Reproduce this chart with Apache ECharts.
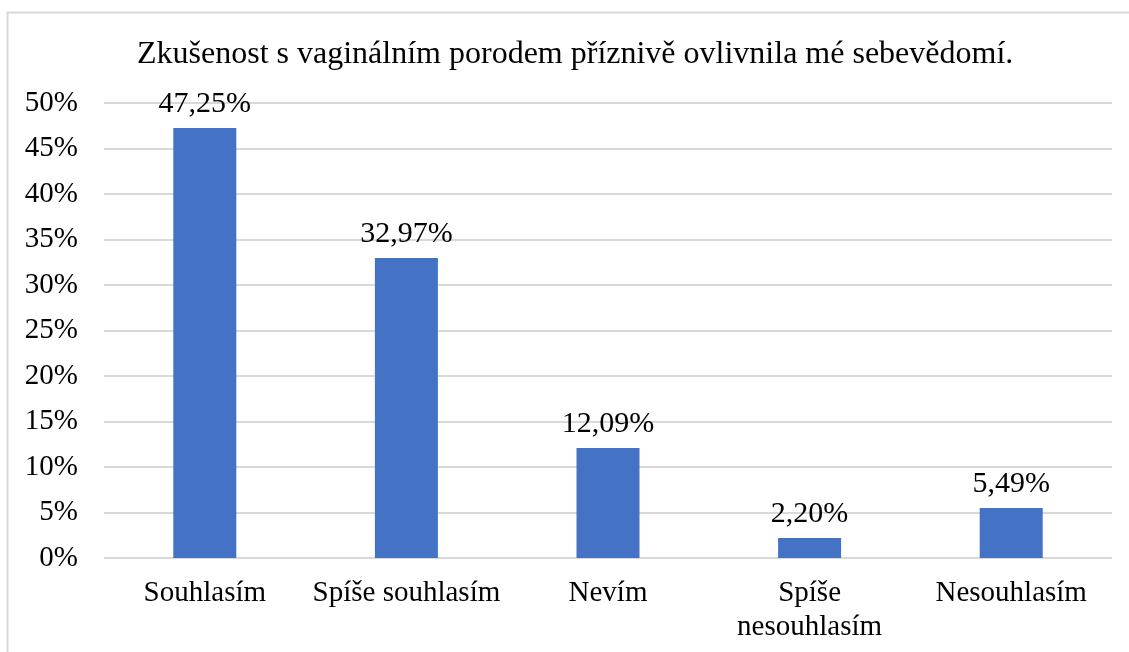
<!DOCTYPE html>
<html>
<head>
<meta charset="utf-8">
<script src="https://cdn.jsdelivr.net/npm/echarts@6/dist/echarts.min.js"></script>
<style>
  html, body { margin: 0; padding: 0; background: #fff; }
  #chart { width: 1129px; height: 652px; }
</style>
</head>
<body>
<div id="chart"></div>
<script>
const categories = ["Souhlasím", "Spíše souhlasím", "Nevím", "Spíše\nnesouhlasím", "Nesouhlasím"];
const values = [47.25, 32.97, 12.09, 2.20, 5.49];
const titleText = "Zkušenost s vaginálním porodem příznivě ovlivnila mé sebevědomí.";

const font = "'Liberation Serif', 'Times New Roman', serif";
const chart = echarts.init(document.getElementById("chart"));
chart.setOption({
  animation: false,
  title: {
    text: titleText,
    left: 137,
    top: 39,
    padding: 0,
    textStyle: { fontFamily: font, fontWeight: "normal", fontSize: 32, color: "#000" }
  },
  graphic: [{
    type: "rect",
    shape: { x: 7.5, y: 12.5, width: 1200, height: 700 },
    style: { fill: "none", stroke: "#d9d9d9", lineWidth: 2 }
  }],
  grid: { left: 104, right: 17, top: 103, bottom: 94, containLabel: false },
  xAxis: {
    type: "category",
    data: categories,
    axisLine: { show: false },
    axisTick: { show: false },
    axisLabel: { fontFamily: font, fontSize: 29, color: "#000", margin: 18, lineHeight: 34, interval: 0 }
  },
  yAxis: {
    type: "value",
    min: 0,
    max: 50,
    interval: 5,
    axisLine: { show: false },
    axisTick: { show: false },
    splitLine: { lineStyle: { color: "#d9d9d9", width: 2 } },
    axisLabel: { fontFamily: font, fontSize: 29, color: "#000", margin: 26, formatter: "{value}%" }
  },
  series: [{
    type: "bar",
    data: values,
    barWidth: 63,
    itemStyle: { color: "#4472c4" },
    label: {
      show: true,
      position: "top",
      distance: 9,
      fontFamily: font,
      fontSize: 30,
      color: "#000",
      formatter: p => p.value.toFixed(2).replace(".", ",") + "%"
    }
  }]
});
</script>
</body>
</html>
